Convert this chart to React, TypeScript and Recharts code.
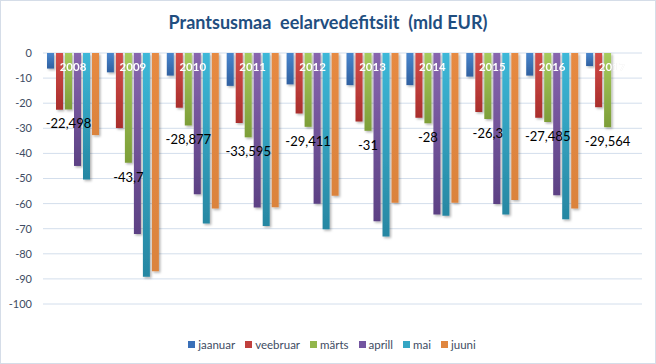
import React from 'react';
import { BarChart, Bar, XAxis, YAxis, CartesianGrid, Legend, LabelList } from 'recharts';

const years = ['2008', '2009', '2010', '2011', '2012', '2013', '2014', '2015', '2016', '2017'];
const jaanuar = [-6.2, -7.7, -9.0, -13.1, -12.5, -12.8, -12.8, -9.4, -9.0, -5.2];
const veebruar = [-22.6, -29.9, -21.8, -27.9, -24.1, -27.3, -25.8, -23.5, -25.8, -21.6];
const marts = [-22.498, -43.7, -28.877, -33.595, -29.411, -31, -28, -26.3, -27.485, -29.564];
const aprill = [-45, -72.1, -56.3, -61.6, -60.1, -67, -64.3, -60.2, -56.7, null];
const mai = [-50.4, -89.1, -67.9, -68.9, -70.2, -73.1, -64.8, -64.3, -66.2, null];
const juuni = [-32.7, -87, -62, -61.5, -56.9, -59.7, -59.7, -58.6, -62, null];
const yTicks = [0, -10, -20, -30, -40, -50, -60, -70, -80, -90, -100];

const series = [
  { key: 'jaanuar', top: '#4A86CC', bottom: '#2F60A0', legend: '#3A70B8' },
  { key: 'veebruar', top: '#D44D49', bottom: '#A92E2C', legend: '#C0403D' },
  { key: 'märts', top: '#A6CB5C', bottom: '#7D9E38', legend: '#92B64C' },
  { key: 'aprill', top: '#8766AE', bottom: '#5C4184', legend: '#7455A0' },
  { key: 'mai', top: '#3DB8D8', bottom: '#2787A2', legend: '#35A6C4' },
  { key: 'juuni', top: '#E78A42', bottom: '#DB833D', legend: '#E0863F' },
];

const data = years.map((y, i) => ({
  year: y,
  jaanuar: jaanuar[i],
  veebruar: veebruar[i],
  'märts': marts[i],
  aprill: aprill[i],
  mai: mai[i],
  juuni: juuni[i],
}));

const FONT = 'Lato, "Open Sans", sans-serif';
const TEXT = '#3E4C63';

// Year label: drawn at the zero line, centred on the category (gap between märts and aprill)
const YearLabel = (props: any) => {
  const { x, y, width, height, value } = props;
  if (value == null) return null;
  const top = Math.min(y, y + height);
  return (
    <text x={x + width + 1} y={top} dy={18} textAnchor="middle" fill="#ffffff" fontFamily={FONT}
      fontSize={11.5} fontWeight={700} style={{ filter: 'drop-shadow(0.5px 0.5px 0.4px rgba(0,0,0,0.12))' }}>
      {value}
    </text>
  );
};

const MartsLabel = (props: any) => {
  const { x, y, width, height, value } = props;
  if (value == null) return null;
  const bottom = Math.max(y, y + height);
  const txt = String(value).replace('.', ',');
  return (
    <text x={x + width / 2} y={bottom} dy={19} textAnchor="middle" fill="#000000"
      fontFamily={FONT} fontSize={13}>
      {txt}
    </text>
  );
};

const LegendContent = () => (
  <div style={{ display: 'flex', justifyContent: 'center', alignItems: 'center', gap: 10, paddingLeft: 8,
    fontFamily: FONT, fontSize: 11.5, color: TEXT }}>
    {series.map((s) => (
      <div key={s.key} style={{ display: 'flex', alignItems: 'center' }}>
        <span style={{ display: 'inline-block', width: 7, height: 7, background: s.legend, marginRight: 3 }} />
        <span>{s.key}</span>
      </div>
    ))}
  </div>
);

export default function App() {
  return (
    <div style={{ position: 'absolute', left: 0, top: 0, width: 656, height: 364, background: '#fff' }}>
      <BarChart width={656} height={364} data={data}
        margin={{ top: 53, right: 14, left: 0, bottom: 47 }}
        barCategoryGap={4} barGap={2}>
        <defs>
          {series.map((s, i) => (
            <linearGradient key={s.key} id={`g${i}`} x1="0" y1="0" x2="0" y2="1">
              <stop offset="0%" stopColor={s.top} />
              <stop offset="100%" stopColor={s.bottom} />
            </linearGradient>
          ))}
          <filter id="sh" x="-50%" y="-10%" width="200%" height="130%">
            <feDropShadow dx="1.5" dy="1.5" stdDeviation="1" floodColor="#000" floodOpacity="0.3" />
          </filter>
        </defs>
        <CartesianGrid vertical={false} stroke="#D3DEEC" strokeWidth={1} />
        <XAxis dataKey="year" hide />
        <YAxis domain={[-100, 0]} ticks={yTicks} interval={0} width={43} axisLine={false} tickLine={false}
          tickMargin={5} tick={{ fill: TEXT, fontSize: 11, fontFamily: FONT }} />
        {series.map((s, i) => (
          <Bar key={s.key} dataKey={s.key} fill={`url(#g${i})`} isAnimationActive={false} filter="url(#sh)">
            {s.key === 'märts' ? <LabelList dataKey="märts" content={MartsLabel} /> : null}
            {s.key === 'märts' ? <LabelList dataKey="year" content={YearLabel} /> : null}
          </Bar>
        ))}
        <Legend content={LegendContent} wrapperStyle={{ position: 'absolute', top: 338, left: 0, width: 656 }} />
      </BarChart>
      <div style={{ position: 'absolute', left: 0, top: 10, width: 656, textAlign: 'center', fontFamily: FONT,
        fontWeight: 700, fontSize: 18, color: '#1F4E80', lineHeight: '24px', whiteSpace: 'pre' }}>
        {'Prantsusmaa  eelarvedefitsiit  (mld EUR)'}
      </div>
      <div style={{ position: 'absolute', left: 0, top: 0, width: 656, height: 364, boxSizing: 'border-box',
        border: '1px solid #D5DDE8', pointerEvents: 'none' }} />
    </div>
  );
}
